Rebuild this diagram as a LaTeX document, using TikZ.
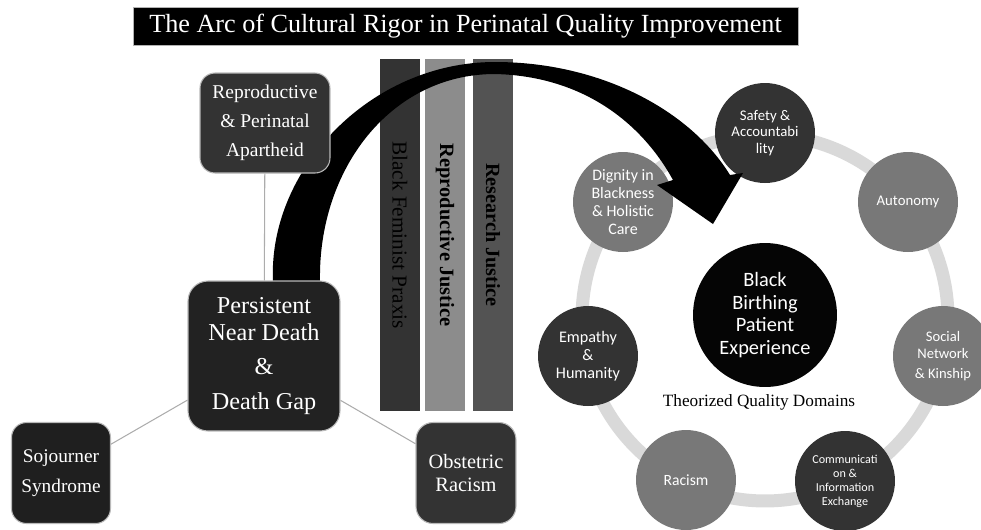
\documentclass[tikz,border=0pt]{standalone}
\usepackage{fontspec}
\setmainfont{Liberation Serif}
\newfontfamily\calibri{Carlito}
\usepackage{tikz}

\definecolor{boxdark}{HTML}{333333}
\definecolor{boxdeep}{HTML}{222222}
\definecolor{domdark}{HTML}{333333}
\definecolor{dommid}{HTML}{787878}
\definecolor{ringgray}{HTML}{D9D9D9}

\begin{document}
\begin{tikzpicture}[x=0.02cm, y=-0.02cm,
	box/.style={draw=gray!55, line width=0.6pt, text=white, align=center, inner sep=1pt},
	bar/.style={rotate=-90, minimum width=7.06cm, minimum height=0.8cm, inner sep=0pt, text=black},
	dom/.style={circle, minimum size=2cm, inner sep=0pt, text=white, align=center},
	link/.style={draw=gray!65, line width=0.6pt}]
	\useasboundingbox (0,0) rectangle (981,529);
	% title
	\node[draw=gray!60, fill=black, text=white, minimum width=13.3cm, minimum height=0.76cm, font=\fontsize{14.9}{17}\selectfont] (title) at (465.5,26) {The Arc of Cultural Rigor in Perinatal Quality Improvement};
	% the three justice bars
	\node[bar, fill=boxdark, font=\fontsize{12.1}{14}\selectfont] (bfp) at (400,235) {Black Feminist Praxis};
	\node[bar, fill=gray!90!white, font=\bfseries\fontsize{11.6}{14}\selectfont] (rj) at (445,235) {Reproductive Justice};
	\node[bar, fill=gray!65!black, font=\bfseries\fontsize{11.5}{14}\selectfont] (resj) at (493,235) {Research Justice};
	% ring of quality domains
	\draw[ringgray, line width=0.26cm] (765,318) circle[radius=3.66cm];
	\node[dom, fill=domdark, font=\calibri\fontsize{8.4}{9.4}\selectfont] (safety) at (765,133) {Safety \&\\Accountabi\\lity};
	\node[dom, fill=dommid, font=\calibri\fontsize{8.4}{10}\selectfont] (auto) at (908,202) {Autonomy};
	\node[dom, fill=dommid, font=\calibri\fontsize{8.3}{9.6}\selectfont] (social) at (943,356) {Social\\Network\\[2pt]\& Kinship};
	\node[dom, fill=domdark, font=\calibri\fontsize{6.9}{8}\selectfont] (comm) at (845,481) {Communicati\\on \&\\Information\\Exchange};
	\node[dom, fill=dommid, font=\calibri\fontsize{8.9}{10}\selectfont] (racism) at (686,480) {Racism};
	\node[dom, fill=domdark, font=\calibri\fontsize{9.2}{10.3}\selectfont] (empathy) at (588,356) {Empathy\\\&\\Humanity};
	\node[dom, fill=dommid, font=\calibri\fontsize{9.1}{10.4}\selectfont] (dignity) at (623,202) {Dignity in\\Blackness\\\& Holistic\\Care};
	\node[circle, fill=black!98, minimum size=2.88cm, inner sep=0pt, text=white, align=center, font=\calibri\fontsize{11.6}{13}\selectfont] (bbpe) at (765,315) {Black\\Birthing\\Patient\\Experience};
	\node[font=\fontsize{9.8}{12}\selectfont] (domains) at (759,402) {Theorized Quality Domains};
	% the arc
	\fill[black] (273,281) .. controls (268,170) and (370,62) .. (495,62)
		.. controls (600,62) and (690,110) .. (730,175)
		-- (743,173) -- (713,224) -- (657,185) -- (673,180)
		.. controls (640,120) and (580,76) .. (495,74)
		.. controls (390,74) and (318,170) .. (320,281) -- cycle;
	% gap boxes
	\node[box, fill=boxdark, rounded corners=0.3cm, minimum width=2.6cm, minimum height=2cm, font=\fontsize{11.1}{16.5}\selectfont] (apart) at (265,123) {Reproductive\\\& Perinatal\\Apartheid};
	\node[box, fill=boxdeep, rounded corners=0.4cm, minimum width=3.04cm, minimum height=3cm, font=\fontsize{13.8}{15.3}\selectfont] (persist) at (264,356) {Persistent\\Near Death\\[4.5pt]\&\\[4.5pt]Death Gap};
	\node[box, fill=black!88, rounded corners=0.3cm, minimum width=1.98cm, minimum height=2.02cm, font=\fontsize{11}{17}\selectfont] (sojourn) at (61,473) {Sojourner\\Syndrome};
	\node[box, fill=boxdark, rounded corners=0.34cm, minimum width=2cm, minimum height=2.02cm, font=\fontsize{11.6}{13}\selectfont] (obst) at (466,473) {Obstetric\\Racism};
	\draw[link] (apart) -- (persist);
	\draw[link] (persist) -- (sojourn);
	\draw[link] (persist) -- (obst);
\end{tikzpicture}
\end{document}
